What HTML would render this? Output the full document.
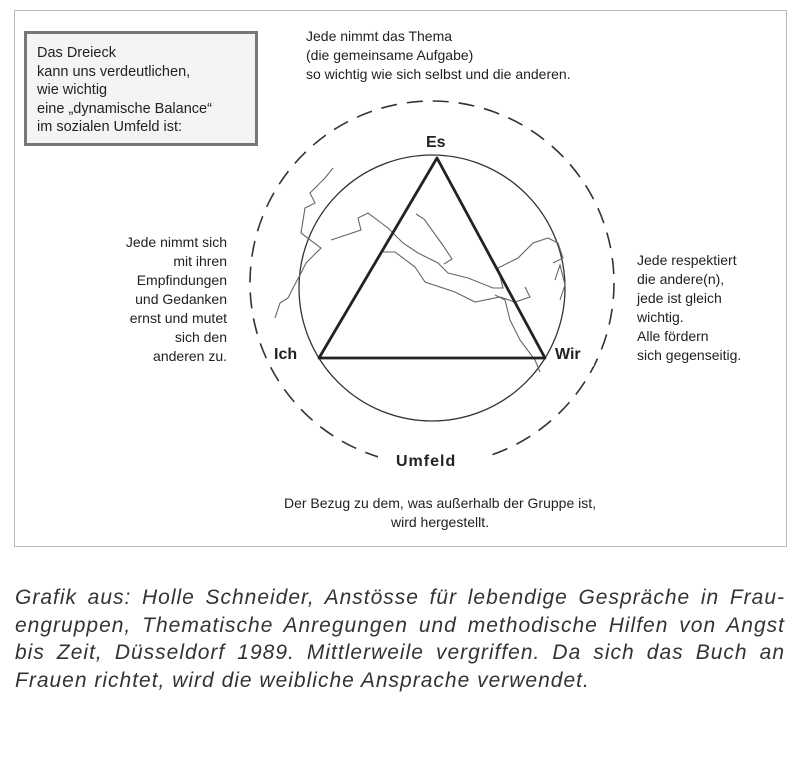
<!DOCTYPE html>
<html><head><meta charset="utf-8"><style>
body{margin:0;width:800px;height:764px;background:#fff;font-family:"Liberation Sans",sans-serif;color:#222;position:relative;overflow:hidden}
.t{position:absolute;font-size:14px;line-height:19px}
.frame{position:absolute;left:14px;top:10px;width:771px;height:535px;border:1px solid #bbb}
.box{position:absolute;left:24px;top:31px;width:234px;height:115px;border:3px solid #777;background:#f4f4f4;box-sizing:border-box}
.cap{position:absolute;left:15px;top:584px;width:770px;font-style:italic;font-size:21px;letter-spacing:1px;line-height:27.5px;color:#333}
.cap div{text-align:justify;text-align-last:justify;white-space:nowrap}
.cap div.l{text-align-last:left}
</style></head><body>
<div class="frame"></div>
<div class="box"><div class="t" style="left:10px;top:10px;font-size:14.5px;line-height:18.5px">Das Dreieck<br>kann uns verdeutlichen,<br>wie wichtig<br>eine „dynamische Balance“<br>im sozialen Umfeld ist:</div></div>
<div class="t" style="left:306px;top:27px">Jede nimmt das Thema<br>(die gemeinsame Aufgabe)<br>so wichtig wie sich selbst und die anderen.</div>
<div class="t" style="left:60px;top:233px;width:167px;text-align:right">Jede nimmt sich<br>mit ihren<br>Empfindungen<br>und Gedanken<br>ernst und mutet<br>sich den<br>anderen zu.</div>
<div class="t" style="left:637px;top:251px">Jede respektiert<br>die andere(n),<br>jede ist gleich<br>wichtig.<br>Alle fördern<br>sich gegenseitig.</div>
<div class="t" style="left:250px;top:494px;width:380px;text-align:center">Der Bezug zu dem, was außerhalb der Gruppe ist,<br>wird hergestellt.</div>
<svg width="800" height="764" style="position:absolute;left:0;top:0">
<circle cx="432" cy="283" r="182" fill="none" stroke="#333" stroke-width="1.6" stroke-dasharray="16 10"/>
<rect x="378" y="448" width="106" height="24" fill="#fff"/>
<rect x="418" y="124" width="40" height="26" fill="#fff"/>
<rect x="270" y="340" width="46" height="26" fill="#fff"/>
<rect x="550" y="340" width="44" height="26" fill="#fff"/>
<circle cx="432" cy="288" r="133" fill="none" stroke="#333" stroke-width="1.3"/>
<g fill="none" stroke="#666" stroke-width="1.1">
<path d="M333 168 l-8 10 l-15 15 l5 10 l-10 5 l-4 25 l20 15 l-15 15 l-5 10 l-8 15 l-5 10 l-8 5 l-5 15"/>
<path d="M331 240 l30 -10 l-3 -12 l10 -5 l20 15 l15 15 l15 10 l20 10 l10 10 l20 5 l25 10 l10 0 l-5 -20 l20 -10 l15 -15 l15 -5 l10 5 l5 15 l-10 5"/>
<path d="M416 214 l8 5 l18 25 l10 15 l-8 5"/>
<path d="M380 252 l15 0 l20 15 l10 15 l30 10 l20 10 l25 -5 l15 5 l15 -5 l-5 -10"/>
<path d="M495 295 l10 5 l5 20 l10 20 l15 20 l5 12"/>
<path d="M555 280 l5 -15 l5 20 l-5 15"/>
</g>
<polygon points="437,158 319,358 545,358" fill="none" stroke="#222" stroke-width="2.8" stroke-linejoin="round"/>
<g font-family="Liberation Sans,sans-serif" font-weight="bold" font-size="16" fill="#222">
<text x="426" y="147">Es</text>
<text x="274" y="359">Ich</text>
<text x="555" y="359">Wir</text>
<text x="396" y="466" font-size="16" letter-spacing="1">Umfeld</text>
</g>
</svg>
<div class="cap">
<div>Grafik aus: Holle Schneider, Anstösse für lebendige Gespräche in Frau-</div>
<div>engruppen, Thematische Anregungen und methodische Hilfen von Angst</div>
<div>bis Zeit, Düsseldorf 1989. Mittlerweile vergriffen. Da sich das Buch an</div>
<div class="l">Frauen richtet, wird die weibliche Ansprache verwendet.</div>
</div>
</body></html>
